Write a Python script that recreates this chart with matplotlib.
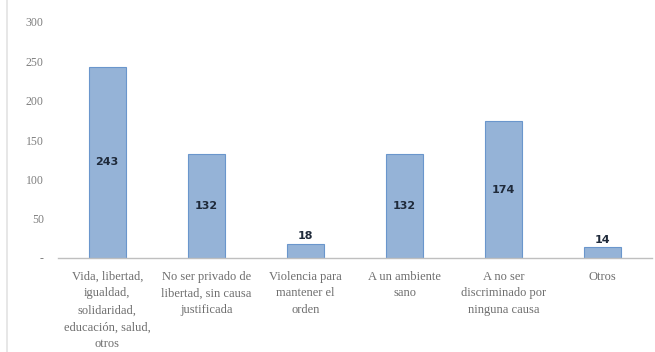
import matplotlib
matplotlib.use("Agg")
import matplotlib.pyplot as plt
from matplotlib.lines import Line2D

categories = [
    "Vida, libertad,\nigualdad,\nsolidaridad,\neducación, salud,\notros",
    "No ser privado de\nlibertad, sin causa\njustificada",
    "Violencia para\nmantener el\norden",
    "A un ambiente\nsano",
    "A no ser\ndiscriminado por\nninguna causa",
    "Otros",
]
values = [243, 132, 18, 132, 174, 14]
yticks = [0, 50, 100, 150, 200, 250, 300]

fig = plt.figure(figsize=(6.55, 3.52), dpi=100)
ax = fig.add_axes([0.088, 0.267, 0.908, 0.6705])

x = list(range(len(values)))
bars = ax.bar(x, values, width=0.37, color="#95B3D7", edgecolor="#6A96CC", linewidth=0.8)

for xi, v in zip(x, values):
    if v > 50:
        ax.text(xi, v / 2, str(v), ha="center", va="center", fontsize=8,
                fontweight="bold", color="#1F2A3A", family="DejaVu Sans")
    else:
        ax.text(xi, v + 3, str(v), ha="center", va="bottom", fontsize=8,
                fontweight="bold", color="#1F2A3A", family="DejaVu Sans")

ax.set_xlim(-0.5, len(values) - 0.5)
ax.set_ylim(0, 300)
ax.set_yticks(yticks)
ax.set_yticklabels([str(t) if t > 0 else "-" for t in yticks], fontsize=8.5,
                   color="#7F7F7F", family="Liberation Serif")
ax.set_xticks(x)
ax.set_xticklabels(categories, fontsize=9, color="#6E6E6E", family="Liberation Serif",
                   linespacing=1.55, va="top")
ax.tick_params(axis="y", length=0, pad=10)
ax.tick_params(axis="x", length=0, pad=9)

for s in ["top", "right", "left"]:
    ax.spines[s].set_visible(False)
ax.spines["bottom"].set_color("#BFBFBF")
ax.spines["bottom"].set_linewidth(1.0)

# chart area left border
fig.add_artist(Line2D([0.011, 0.011], [0, 1], transform=fig.transFigure,
                      color="#E3E3E3", linewidth=1.2))

fig.savefig("out.png", dpi=100, facecolor="white")
